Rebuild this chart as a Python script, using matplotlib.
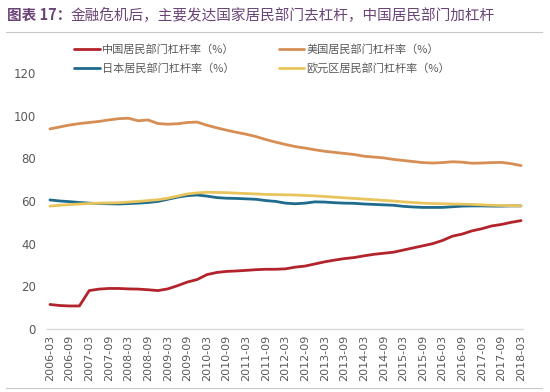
import matplotlib
matplotlib.use("Agg")
import matplotlib.pyplot as plt
from matplotlib.lines import Line2D

plt.rcParams['font.family'] = ['Noto Sans CJK SC', 'DejaVu Sans']

# ---- data (quarterly, 2006-03 .. 2018-03) ----
quarters = [f"{y}-{m:02d}" for y in range(2006, 2019) for m in (3, 6, 9, 12)][:49]
tick_labels = quarters[::2]

china = [11.5, 11.0, 10.8, 10.8, 18.0, 18.7, 19.0, 19.0, 18.8, 18.7,
         18.4, 18.0, 18.8, 20.3, 22.0, 23.2, 25.5, 26.5, 27.0, 27.2,
         27.5, 27.8, 28.0, 28.0, 28.2, 29.0, 29.5, 30.5, 31.5, 32.3,
         33.0, 33.5, 34.3, 35.0, 35.5, 36.0, 37.0, 38.0, 39.0, 40.0,
         41.5, 43.5, 44.5, 46.0, 47.0, 48.3, 49.0, 50.0, 50.8]
usa = [93.8, 94.7, 95.6, 96.3, 96.8, 97.3, 98.0, 98.6, 98.8, 97.6,
       98.0, 96.3, 96.0, 96.2, 96.8, 97.0, 95.5, 94.3, 93.2, 92.2,
       91.3, 90.2, 88.8, 87.6, 86.5, 85.5, 84.8, 84.0, 83.3, 82.8,
       82.3, 81.8, 81.0, 80.6, 80.2, 79.5, 79.0, 78.5, 78.0, 77.8,
       78.0, 78.4, 78.2, 77.7, 77.8, 78.0, 78.1, 77.5, 76.6]
japan = [60.5, 60.0, 59.7, 59.3, 59.0, 58.8, 58.7, 58.6, 58.8, 59.0,
         59.3, 59.8, 60.8, 61.8, 62.5, 62.8, 62.3, 61.6, 61.3, 61.2,
         61.0, 60.8, 60.2, 59.8, 59.0, 58.7, 59.0, 59.6, 59.5, 59.2,
         59.0, 58.9, 58.6, 58.4, 58.2, 58.0, 57.5, 57.2, 57.0, 57.0,
         57.0, 57.3, 57.6, 57.7, 57.7, 57.6, 57.6, 57.7, 57.7]
euro = [57.6, 58.0, 58.3, 58.6, 58.8, 59.0, 59.1, 59.2, 59.5, 59.8,
        60.2, 60.6, 61.3, 62.3, 63.3, 63.8, 64.1, 64.0, 63.9, 63.7,
        63.5, 63.3, 63.1, 63.0, 62.9, 62.8, 62.6, 62.4, 62.1, 61.8,
        61.5, 61.2, 60.9, 60.6, 60.3, 60.0, 59.6, 59.3, 59.0, 58.8,
        58.7, 58.6, 58.5, 58.4, 58.2, 58.0, 57.9, 57.8, 57.7]

series_names = ["中国居民部门杠杆率（%）", "美国居民部门杠杆率（%）",
                "日本居民部门杠杆率（%）", "欧元区居民部门杠杆率（%）"]
title_head = "图表 17："
title_body = "金融危机后，主要发达国家居民部门去杠杆，中国居民部门加杠杆"

colors = ["#B3232B", "#D68E55", "#1F6B8E", "#E8C55C"]

fig = plt.figure(figsize=(5.5, 3.92), dpi=100)
ax = fig.add_axes([47/550, 1-329/392, (523-47)/550, (329-73)/392])

x = list(range(len(quarters)))
lines = []
for data, c, name in zip([china, usa, japan, euro], colors, series_names):
    l, = ax.plot(x, data, color=c, lw=2.0, label=name, solid_capstyle='round')
    lines.append(l)

ax.set_ylim(0, 120)
ax.set_yticks(range(0, 121, 20))
ax.set_xlim(-0.3, 48.2)
ax.set_xticks(x[::2])
ax.set_xticklabels(tick_labels, rotation=90, fontsize=8, color="#595959",
                   family=['DejaVu Sans'])
ax.tick_params(axis='y', labelsize=8.5, labelcolor="#595959", length=0, pad=8)
ax.tick_params(axis='x', length=0, pad=4)
for lab in ax.get_yticklabels():
    lab.set_family(['DejaVu Sans'])
for s in ['top', 'right', 'left']:
    ax.spines[s].set_visible(False)
ax.spines['bottom'].set_color("#D9D9D9")
ax.spines['bottom'].set_linewidth(1.0)

handles = [lines[0], lines[2], lines[1], lines[3]]
labels = [series_names[0], series_names[2], series_names[1], series_names[3]]
fig.legend(handles, labels, loc='upper left', bbox_to_anchor=(74/550, 1-44/392),
           ncol=2, frameon=False, fontsize=8, handlelength=2.3,
           handletextpad=0.2, columnspacing=4.0, labelspacing=0.75,
           labelcolor="#595959", borderpad=0, borderaxespad=0)

t1 = fig.text(0.012, 1-15/392, title_head, fontsize=10.5, color="#6A4477",
              va='center', ha='left', fontweight='bold')
fig.canvas.draw()
bb = t1.get_window_extent()
fig.text(bb.x1 / fig.bbox.width, 1-15/392, title_body, fontsize=10.5,
         color="#6A4477", va='center', ha='left')
fig.add_artist(Line2D([0.01, 0.985], [1-32/392, 1-32/392], transform=fig.transFigure,
                      color="#C8C8C8", lw=0.8))
fig.add_artist(Line2D([0.01, 0.985], [1-388/392, 1-388/392], transform=fig.transFigure,
                      color="#C8C8C8", lw=0.8))

fig.savefig("out.png", dpi=100)
